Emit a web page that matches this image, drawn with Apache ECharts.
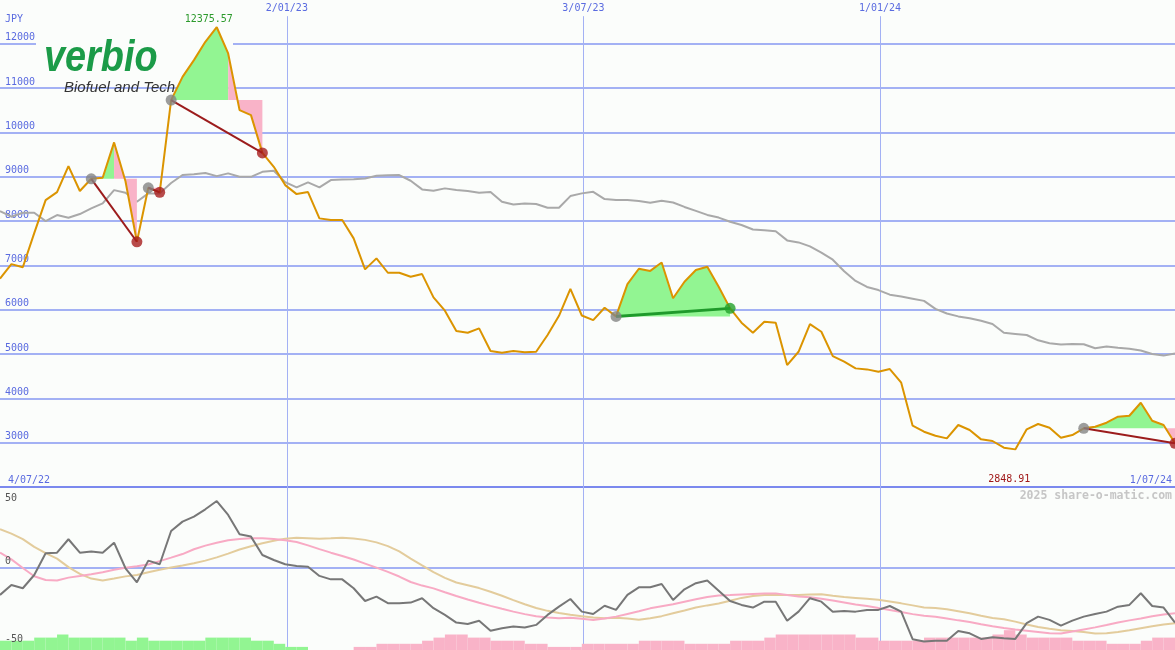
<!DOCTYPE html>
<html><head><meta charset="utf-8">
<script src="https://cdn.jsdelivr.net/npm/echarts@6/dist/echarts.min.js"></script>
<style>html,body{margin:0;padding:0;background:#fbfdfb}#c{width:1175px;height:650px}</style>
</head><body><div id="c"></div><script>
// ---- data (weekly closes, first point 2022-07-10) ----
const startDate = '2022-07-10';
const currency = 'JPY';
const price = [6700, 7030, 6960, 7730, 8475, 8655, 9240, 8680, 8955, 8980,
 9776, 8900, 7534, 8752, 8650, 10731, 11256, 11633, 12046, 12375.57,
 11784, 10505, 10392, 9540, 9226, 8813, 8610, 8655, 8062, 8024,
 8024, 7611, 6911, 7160, 6835, 6835, 6744, 6805, 6280, 5978,
 5519, 5481, 5580, 5068, 5030, 5068, 5039, 5052, 5429, 5864,
 6470, 5870, 5767, 6045, 5850, 6580, 6925, 6876, 7065, 6260,
 6632, 6896, 6970, 6519, 6031, 5707, 5481, 5729, 5707, 4752,
 5052, 5677, 5503, 4955, 4827, 4677, 4654, 4601, 4662, 4353,
 3383, 3248, 3157, 3097, 3399, 3286, 3075, 3038, 2887, 2848.91,
 3301, 3421, 3338, 3112, 3173, 3324, 3360, 3451, 3586, 3608,
 3902, 3496, 3399, 2986];
const avg = [8226, 8100, 8189, 8189, 8001, 8136, 8076, 8159, 8288, 8400,
 8700, 8640, 8436, 8626, 8626, 8860, 9040, 9060, 9085, 9016,
 9077, 9000, 9000, 9113, 9136, 8880, 8761, 8874, 8761, 8926,
 8940, 8945, 8960, 9023, 9035, 9039, 8911, 8716, 8685, 8739,
 8700, 8678, 8640, 8655, 8436, 8377, 8400, 8385, 8301, 8301,
 8565, 8626, 8662, 8497, 8475, 8475, 8455, 8414, 8459, 8420,
 8320, 8230, 8140, 8080, 7985, 7912, 7810, 7795, 7770, 7565,
 7520, 7430, 7290, 7130, 6870, 6650, 6515, 6444, 6340, 6300,
 6250, 6200, 6020, 5915, 5850, 5810, 5750, 5680, 5480, 5455,
 5430, 5310, 5245, 5215, 5226, 5220, 5130, 5170, 5140, 5120,
 5080, 5000, 4965, 5015];
const osc = [-17.3, -10.9, -13.0, -4.5, 9.4, 9.8, 18.4, 9.8, 10.5, 9.8,
 16.2, -0.2, -9.2, 4.7, 2.4, 23.7, 29.7, 32.9, 37.6, 42.9,
 34.0, 21.6, 20.1, 8.3, 5.1, 2.4, 1.3, 0.8, -5.1, -7.3,
 -7.3, -13.0, -21.2, -18.4, -22.6, -22.6, -22.2, -19.4, -25.8, -30.1,
 -35.0, -35.9, -33.8, -40.2, -38.7, -37.6, -38.2, -36.5, -30.1, -24.8,
 -19.9, -28.0, -29.5, -24.2, -26.9, -17.3, -12.4, -12.4, -10.3, -20.5,
 -13.7, -9.8, -8.1, -14.6, -21.2, -23.7, -25.4, -21.6, -21.6, -33.8,
 -28.0, -19.4, -21.6, -28.0, -27.6, -28.0, -26.9, -26.9, -24.4, -28.0,
 -45.7, -47.2, -46.6, -46.6, -40.4, -41.9, -45.5, -44.4, -45.1, -45.5,
 -35.4, -31.2, -33.3, -37.0, -33.8, -31.2, -29.5, -28.0, -24.8, -23.7,
 -16.2, -24.4, -25.4, -35.0];
const oscPink = [9.8, 5.5, 0.0, -5.3, -7.7, -8.1, -6.2, -5.2, -4.0, -2.7,
 -1.1, 0.2, 1.1, 2.2, 4.4, 6.6, 8.9, 12.0, 14.3, 16.2,
 17.7, 18.6, 19.0, 19.0, 18.5, 17.7, 16.6, 14.5, 12.1, 9.8,
 7.7, 5.4, 2.8, 0.2, -2.5, -5.5, -9.0, -11.3, -13.1, -15.6,
 -18.0, -20.2, -22.3, -24.3, -26.2, -28.0, -29.6, -30.9, -31.8, -32.2,
 -32.0, -32.6, -33.3, -32.4, -31.2, -29.5, -27.8, -25.9, -24.5, -23.3,
 -21.7, -20.1, -18.6, -17.7, -17.4, -17.0, -16.7, -16.4, -16.3, -17.4,
 -18.3, -18.8, -19.8, -20.9, -22.1, -23.4, -24.4, -25.7, -26.9, -28.3,
 -29.6, -30.6, -31.3, -32.4, -33.6, -34.7, -36.1, -37.4, -38.5, -39.5,
 -40.3, -41.1, -41.9, -42.0, -40.8, -39.4, -38.1, -36.6, -35.0, -33.6,
 -32.4, -31.0, -29.8, -29.0];
const oscTan = [24.8, 22.0, 18.5, 13.5, 9.5, 6.0, 0.5, -3.8, -6.8, -8.0,
 -6.8, -5.4, -4.5, -2.7, -1.2, 0.3, 1.6, 3.0, 4.7, 6.8,
 9.2, 11.8, 13.9, 15.8, 17.4, 18.8, 19.3, 19.0, 18.7, 19.0,
 19.4, 18.9, 18.0, 16.4, 14.0, 10.6, 6.0, 1.6, -2.7, -6.4,
 -9.3, -11.1, -12.9, -15.3, -17.8, -20.6, -23.3, -25.7, -27.5, -28.9,
 -30.0, -30.9, -31.8, -32.2, -32.0, -32.4, -33.2, -32.2, -30.9, -29.1,
 -27.3, -25.4, -24.0, -22.8, -21.0, -19.2, -18.0, -17.3, -17.3, -17.3,
 -17.4, -17.0, -16.8, -17.8, -18.6, -19.2, -19.8, -20.4, -21.5, -22.7,
 -24.0, -25.3, -25.6, -26.5, -27.8, -29.1, -30.7, -32.1, -32.9, -34.4,
 -36.2, -37.8, -39.0, -39.9, -40.4, -41.1, -42.0, -41.9, -41.0, -39.9,
 -38.6, -37.4, -36.2, -35.4];
const bars = [3, 3, 3, 4, 4, 5, 4, 4, 4, 4,
 4, 3, 4, 3, 3, 3, 3, 3, 4, 4,
 4, 4, 3, 3, 2, 1, 1, 0, 0, 0,
 0, -1, -1, -2, -2, -2, -2, -3, -4, -5,
 -5, -4, -4, -3, -3, -3, -2, -2, -1, -1,
 -1, -2, -2, -2, -2, -2, -3, -3, -3, -3,
 -2, -2, -2, -2, -3, -3, -3, -4, -5, -5,
 -5, -5, -5, -5, -5, -4, -4, -3, -3, -3,
 -3, -4, -4, -4, -4, -4, -4, -5, -6.4, -5,
 -4, -4, -4, -4, -3, -3, -3, -2, -2, -2,
 -3, -4, -4, -4];
// trades: [entry week index, exit week index]
const trades = [[8, 12], [13, 14], [15, 23], [54, 64], [95, 103]];
const dateLines = ['2023-01-02', '2023-07-03', '2024-01-01'];
const dateLineLabels = ['2/01/23', '3/07/23', '1/01/24'];
const rangeLabels = ['4/07/22', '1/07/24'];
const oscLabels = [50, 0, -50];

// ---- styles ----
const BG = '#fbfdfb', GRID = '#a3b1f4', LBL = '#5a6be0', FONT = '"DejaVu Sans Mono", monospace';
const GREEN_FILL = '#92f592', PINK_FILL = '#f9b3c8';
const weekMs = 7 * 864e5;
const vIdx = dateLines.map(d => (Date.parse(d) - Date.parse(startDate)) / weekMs);
const N = price.length - 1;
function greenEnd(t) {
  let g = t[0];
  for (let i = t[0] + 1; i <= t[1]; i++) { if (price[i] >= price[t[0]]) g = i; else break; }
  return g;
}
function fillRender(part, color) {
  return function (params, api) {
    const t = trades[params.dataIndex];
    const g = greenEnd(t);
    const s = part === 'g' ? t[0] : g, e = part === 'g' ? g : t[1];
    if (e <= s) return null;
    const lvl = price[t[0]];
    const pts = [api.coord([s, lvl])];
    for (let i = s; i <= e; i++) pts.push(api.coord([i, price[i]]));
    pts.push(api.coord([e, lvl]));
    return { type: 'polygon', shape: { points: pts }, style: { fill: color } };
  };
}
let maxI = 0, minI = 0;
price.forEach((v, i) => { if (v > price[maxI]) maxI = i; if (v < price[minI]) minI = i; });

const chart = echarts.init(document.getElementById('c'), null, { renderer: 'canvas' });
const option = {
  backgroundColor: BG,
  animation: false,
  textStyle: { fontFamily: FONT, fontSize: 10 },
  grid: [
    { left: 0, right: 0, top: 0, height: 487 },
    { left: 0, right: 0, top: 487, height: 163 }
  ],
  xAxis: [
    { gridIndex: 0, type: 'value', min: 0, max: N, axisLine: { show: true, onZero: false, lineStyle: { color: '#7b89ee', width: 2 } }, axisTick: { show: false }, axisLabel: { show: false }, splitLine: { show: false } },
    { gridIndex: 1, type: 'value', min: 0, max: N, show: false }
  ],
  yAxis: [
    { gridIndex: 0, type: 'value', min: 2000, max: 12990, interval: 1000, axisLine: { show: false }, axisTick: { show: false },
      splitLine: { show: true, showMinLine: false, showMaxLine: false, lineStyle: { color: GRID, width: 2 } },
      axisLabel: { inside: true, margin: 5, verticalAlign: 'bottom', padding: [0, 0, 1, 0], color: LBL, fontSize: 10, fontFamily: FONT, showMinLabel: false, showMaxLabel: false, formatter: v => String(v) } },
    { gridIndex: 1, type: 'value', min: -52.6, max: 51.9, show: false, splitLine: { show: false } },
    { gridIndex: 1, type: 'value', min: 0, max: 52.6, show: false, splitLine: { show: false } }
  ],
  series: [
    { type: 'line', name: 'avg', xAxisIndex: 0, yAxisIndex: 0, data: avg.map((v, i) => [i, v]), showSymbol: false, z: 2,
      lineStyle: { color: '#a9a9a9', width: 2 },
      markLine: { silent: true, symbol: ['none', 'none'], z: 1, animation: false,
        lineStyle: { color: GRID, width: 1, type: 'solid' },
        label: { show: true, position: 'end', distance: 3, color: LBL, fontSize: 10, fontFamily: FONT, formatter: '{b}' },
        data: vIdx.map((x, k) => [{ name: dateLineLabels[k], coord: [x, 2000] }, { name: dateLineLabels[k], coord: [x, 12625] }]) } },
    { type: 'custom', name: 'gainFill', xAxisIndex: 0, yAxisIndex: 0, z: 3, renderItem: fillRender('g', GREEN_FILL), data: trades.map(t => [t[0], price[t[0]]]), encode: { x: 0, y: 1 } },
    { type: 'custom', name: 'lossFill', xAxisIndex: 0, yAxisIndex: 0, z: 3, renderItem: fillRender('p', PINK_FILL), data: trades.map(t => [t[0], price[t[0]]]), encode: { x: 0, y: 1 } },
    { type: 'line', name: 'price', xAxisIndex: 0, yAxisIndex: 0, data: price.map((v, i) => [i, v]), showSymbol: false, z: 4,
      lineStyle: { color: '#db9400', width: 2 },
      markPoint: { symbol: 'circle', symbolSize: 0, silent: true, animation: false,
        data: [
          { coord: [maxI, price[maxI]], value: price[maxI].toFixed(2), label: { show: true, position: 'top', distance: 5, offset: [-8, 2], color: '#2c9a2c', fontSize: 10, fontFamily: FONT, formatter: '{c}' } },
          { coord: [minI, price[minI]], value: price[minI].toFixed(2), label: { show: true, position: 'bottom', distance: 5, offset: [-6, 20], color: '#a01818', fontSize: 10, fontFamily: FONT, formatter: '{c}' } }
        ] } },
    { type: 'custom', name: 'tradeLines', xAxisIndex: 0, yAxisIndex: 0, z: 5,
      data: trades.map(t => [t[0], price[t[0]]]), encode: { x: 0, y: 1 },
      renderItem: function (params, api) {
        const t = trades[params.dataIndex];
        const a = api.coord([t[0], price[t[0]]]), b = api.coord([t[1], price[t[1]]]);
        const win = price[t[1]] > price[t[0]];
        return { type: 'line', shape: { x1: a[0], y1: a[1], x2: b[0], y2: b[1] }, style: { stroke: win ? '#1f9a2b' : '#9c1c1c', lineWidth: win ? 3 : 2 } };
      } },
    { type: 'scatter', name: 'marks', xAxisIndex: 0, yAxisIndex: 0, z: 6, symbolSize: 11,
      data: trades.flatMap(t => [
        { value: [t[0], price[t[0]]], itemStyle: { color: '#858585' } },
        { value: [t[1], price[t[1]]], itemStyle: { color: price[t[1]] > price[t[0]] ? '#23a12b' : '#a81e1e' } }
      ]) },
    // lower panel
    { type: 'custom', name: 'bars', xAxisIndex: 1, yAxisIndex: 2, z: 2, clip: true,
      data: bars.map((v, i) => [i, v]), encode: { x: 0, y: 1 },
      renderItem: function (params, api) {
        const i = api.value(0), v = api.value(1);
        if (!v) return null;
        const p1 = api.coord([i, Math.abs(v)]), p2 = api.coord([i + 1, 0]);
        return { type: 'rect', shape: { x: p1[0], y: p1[1], width: p2[0] - p1[0], height: p2[1] - p1[1] }, style: { fill: v > 0 ? GREEN_FILL : PINK_FILL } };
      } },
    { type: 'line', name: 'oscTan', xAxisIndex: 1, yAxisIndex: 1, data: oscTan.map((v, i) => [i, v]), showSymbol: false, z: 3,
      lineStyle: { color: '#e3cc9c', width: 2 } },
    { type: 'line', name: 'oscPink', xAxisIndex: 1, yAxisIndex: 1, data: oscPink.map((v, i) => [i, v]), showSymbol: false, z: 3,
      lineStyle: { color: '#f8aac4', width: 2 } },
    { type: 'line', name: 'osc', xAxisIndex: 1, yAxisIndex: 1, data: osc.map((v, i) => [i, v]), showSymbol: false, z: 4,
      lineStyle: { color: '#777777', width: 2 },
      markLine: { silent: true, symbol: ['none', 'none'], z: 1, animation: false, label: { show: false },
        data: [{ yAxis: 0, lineStyle: { color: GRID, width: 2, type: 'solid' } }].concat(
          vIdx.map(x => ({ xAxis: x, lineStyle: { color: GRID, width: 1, type: 'solid' } }))) } }
  ],
  graphic: [
    { type: 'rect', z: 1, silent: true, shape: { x: 36, y: 30, width: 197, height: 48 }, style: { fill: BG } },
    { type: 'text', z: 1, silent: true, x: 44, y: 37, scaleX: 0.86, style: { text: 'verbio', font: 'italic bold 44px "Liberation Sans", sans-serif', fill: '#1b9b48', verticalAlign: 'top' } },
    { type: 'text', z: 1, silent: true, x: 64, y: 88, style: { text: 'Biofuel and Tech', font: 'italic 15px "Liberation Sans", sans-serif', fill: '#333333', verticalAlign: 'middle' } },
    { type: 'text', z: 7, silent: true, x: 5, y: 19, style: { text: currency, font: '10px ' + FONT, fill: LBL, verticalAlign: 'middle' } },
    { type: 'text', z: 7, silent: true, x: 8, y: 480, style: { text: rangeLabels[0], font: '10px ' + FONT, fill: LBL, verticalAlign: 'middle' } },
    { type: 'text', z: 7, silent: true, x: 1172, y: 480, style: { text: rangeLabels[1], font: '10px ' + FONT, fill: LBL, verticalAlign: 'middle', align: 'right' } },
    { type: 'text', z: 7, silent: true, x: 1172, y: 496, style: { text: '2025 share-o-matic.com', font: 'bold 11.5px ' + FONT, fill: '#c6c6c6', verticalAlign: 'middle', align: 'right' } }
  ]
};
chart.setOption(option);
// lower panel axis labels placed via the panel's own scale
const oscGraphics = oscLabels.map(v => {
  const y = chart.convertToPixel({ yAxisIndex: 1 }, v);
  const top = v > 0;
  return { type: 'text', z: 7, silent: true, x: 5, y: top ? Math.max(y, 487) + 3 : y - 2,
    style: { text: String(v), font: '10px ' + FONT, fill: '#555555', verticalAlign: top ? 'top' : 'bottom' } };
});
chart.setOption({ graphic: option.graphic.concat(oscGraphics) });
</script></body></html>
